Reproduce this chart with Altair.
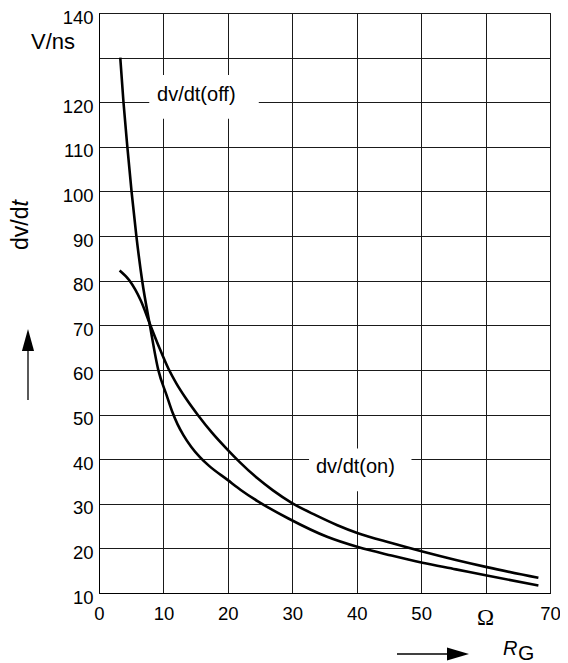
import altair as alt
import pandas as pd

# ---- data ----
R_OFF = [3.3, 3.8, 4.4, 5.05, 5.8, 6.7, 7.9, 9.2, 10.5, 11.4, 12.2, 13.1, 14.3, 15.7, 17.0, 20.0, 22.0, 24.6, 29.4, 35.4, 40.2, 45.4, 50.2, 55.4, 60.2, 68.2]
V_OFF = [130, 120, 110, 100, 90, 80, 70, 60, 54.3, 50.5, 47.8, 45.4, 42.8, 40.4, 38.6, 35.3, 33.1, 30.6, 26.7, 22.6, 20.3, 18.4, 16.8, 15.3, 13.9, 11.7]
R_ON = [3.2, 4.7, 6.5, 7.9, 9.3, 10.8, 12.0, 13.5, 15.4, 17.5, 19.9, 21.8, 24.6, 27.0, 29.9, 33.7, 37.0, 40.2, 45.4, 50.2, 55.4, 60.2, 68.2]
V_ON = [82.3, 80.1, 75.5, 70.3, 65.2, 60.2, 57.0, 53.6, 49.8, 46.0, 42.2, 39.4, 35.7, 33.0, 30.2, 27.4, 25.2, 23.4, 21.2, 19.3, 17.4, 15.8, 13.4]

X_TICKS = [0, 10, 20, 30, 40, 50, 60, 70]
Y_TICKS = [10, 20, 30, 40, 50, 60, 70, 80, 90, 100, 110, 120, 130, 140]

LABEL_TEXT = ["dv/dt(off)", "dv/dt(on)"]
LABEL_R = [15.1, 39.8]
LABEL_V = [121.7, 38.2]
BOX_R1 = [7.8, 32.6]
BOX_R2 = [24.8, 48.5]
BOX_V1 = [116.3, 32.8]
BOX_V2 = [126.1, 42.4]

FONT = "Liberation Sans"

curves = pd.concat([
    pd.DataFrame({"R": R_OFF, "V": V_OFF, "s": "off"}),
    pd.DataFrame({"R": R_ON, "V": V_ON, "s": "on"}),
])
labels = pd.DataFrame({"t": LABEL_TEXT, "R": LABEL_R, "V": LABEL_V})
boxes = pd.DataFrame({"R": BOX_R1, "R2": BOX_R2, "V": BOX_V1, "V2": BOX_V2})

W, H = 451, 580

xs = alt.Scale(domain=[0, 70], nice=False, zero=False)
ys = alt.Scale(domain=[10, 140], nice=False, zero=False)
xaxis = alt.Axis(values=X_TICKS, title=None, grid=True, ticks=False,
                 labelExpr="datum.value == 60 ? '' : datum.label",
                 labelPadding=11, labelFlush=False, labelOverlap=False,
                 labelFontSize=18.5, labelFont=FONT, labelColor="black",
                 gridColor="#1a1a1a", gridWidth=1, domainColor="black", domainWidth=1)
yaxis = alt.Axis(values=Y_TICKS, title=None, grid=True, ticks=False,
                 labelExpr="datum.value == 130 ? '' : datum.label",
                 labelPadding=6, labelOffset=4, labelFlush=False, labelOverlap=False,
                 labelFontSize=18.5, labelFont=FONT, labelColor="black",
                 gridColor="#1a1a1a", gridWidth=1, domainColor="black", domainWidth=1)

X = alt.X("R:Q", scale=xs, axis=xaxis)
Y = alt.Y("V:Q", scale=ys, axis=yaxis)

box_layer = alt.Chart(boxes).mark_rect(color="white").encode(x=X, x2="R2:Q", y=Y, y2="V2:Q")

line_layer = alt.Chart(curves).mark_line(color="black", strokeWidth=2.6, interpolate="monotone").encode(
    x=X, y=Y, detail="s:N")

label_layer = alt.Chart(labels).mark_text(font=FONT, fontSize=20, color="black",
                                          align="center", baseline="middle").encode(
    x=X, y=Y, text="t:N")


def txt(text, x, y, **kw):
    return alt.Chart(pd.DataFrame({"t": [text]})).mark_text(color="black", **kw).encode(
        text="t:N", x=x, y=alt.value(y))


def one():
    return alt.Chart(pd.DataFrame({"a": [0]}))


vns = txt("V/ns", alt.value(-24), 29, font=FONT, fontSize=22, align="right", baseline="middle")
omega = txt("\u03a9", alt.datum(60), 605, font="Liberation Serif", fontSize=23, align="center", baseline="middle")
ytitle1 = txt("dv/d", alt.value(-71), 237, font=FONT, fontSize=23, angle=270, align="left", baseline="alphabetic")
ytitle2 = txt("t", alt.value(-71), 193.5, font=FONT, fontSize=23, fontStyle="italic", angle=270, align="left", baseline="alphabetic")
rg_r = txt("R", alt.value(404), 642, font=FONT, fontSize=20, fontStyle="italic", align="left", baseline="alphabetic")
rg_g = txt("G", alt.value(419), 647, font=FONT, fontSize=21, align="left", baseline="alphabetic")

x_arrow_line = one().mark_rule(color="black", strokeWidth=1.3).encode(
    x=alt.value(298), x2=alt.value(352), y=alt.value(641))
x_arrow_head = one().mark_point(shape="M-1,-0.6L1,0L-1,0.6Z", filled=True, color="black",
                                opacity=1, size=484, strokeWidth=0).encode(
    x=alt.value(359), y=alt.value(641))
y_arrow_line = one().mark_rule(color="black", strokeWidth=1.3).encode(
    x=alt.value(-71), y=alt.value(336), y2=alt.value(387))
y_arrow_head = one().mark_point(shape="M-0.55,1L0,-1L0.55,1Z", filled=True, color="black",
                                opacity=1, size=484, strokeWidth=0).encode(
    x=alt.value(-71), y=alt.value(327))

chart = alt.layer(
    box_layer, line_layer, label_layer,
    vns, omega, ytitle1, ytitle2, rg_r, rg_g,
    x_arrow_line, x_arrow_head, y_arrow_line, y_arrow_head,
).properties(
    width=W, height=H,
    autosize=alt.AutoSizeParams(type="none"),
    padding={"left": 91, "top": 5, "right": 10, "bottom": 70},
    background="white",
).configure_view(stroke="black", strokeWidth=1)

chart.save("out.html", embed_options={"renderer": "svg", "actions": False})
